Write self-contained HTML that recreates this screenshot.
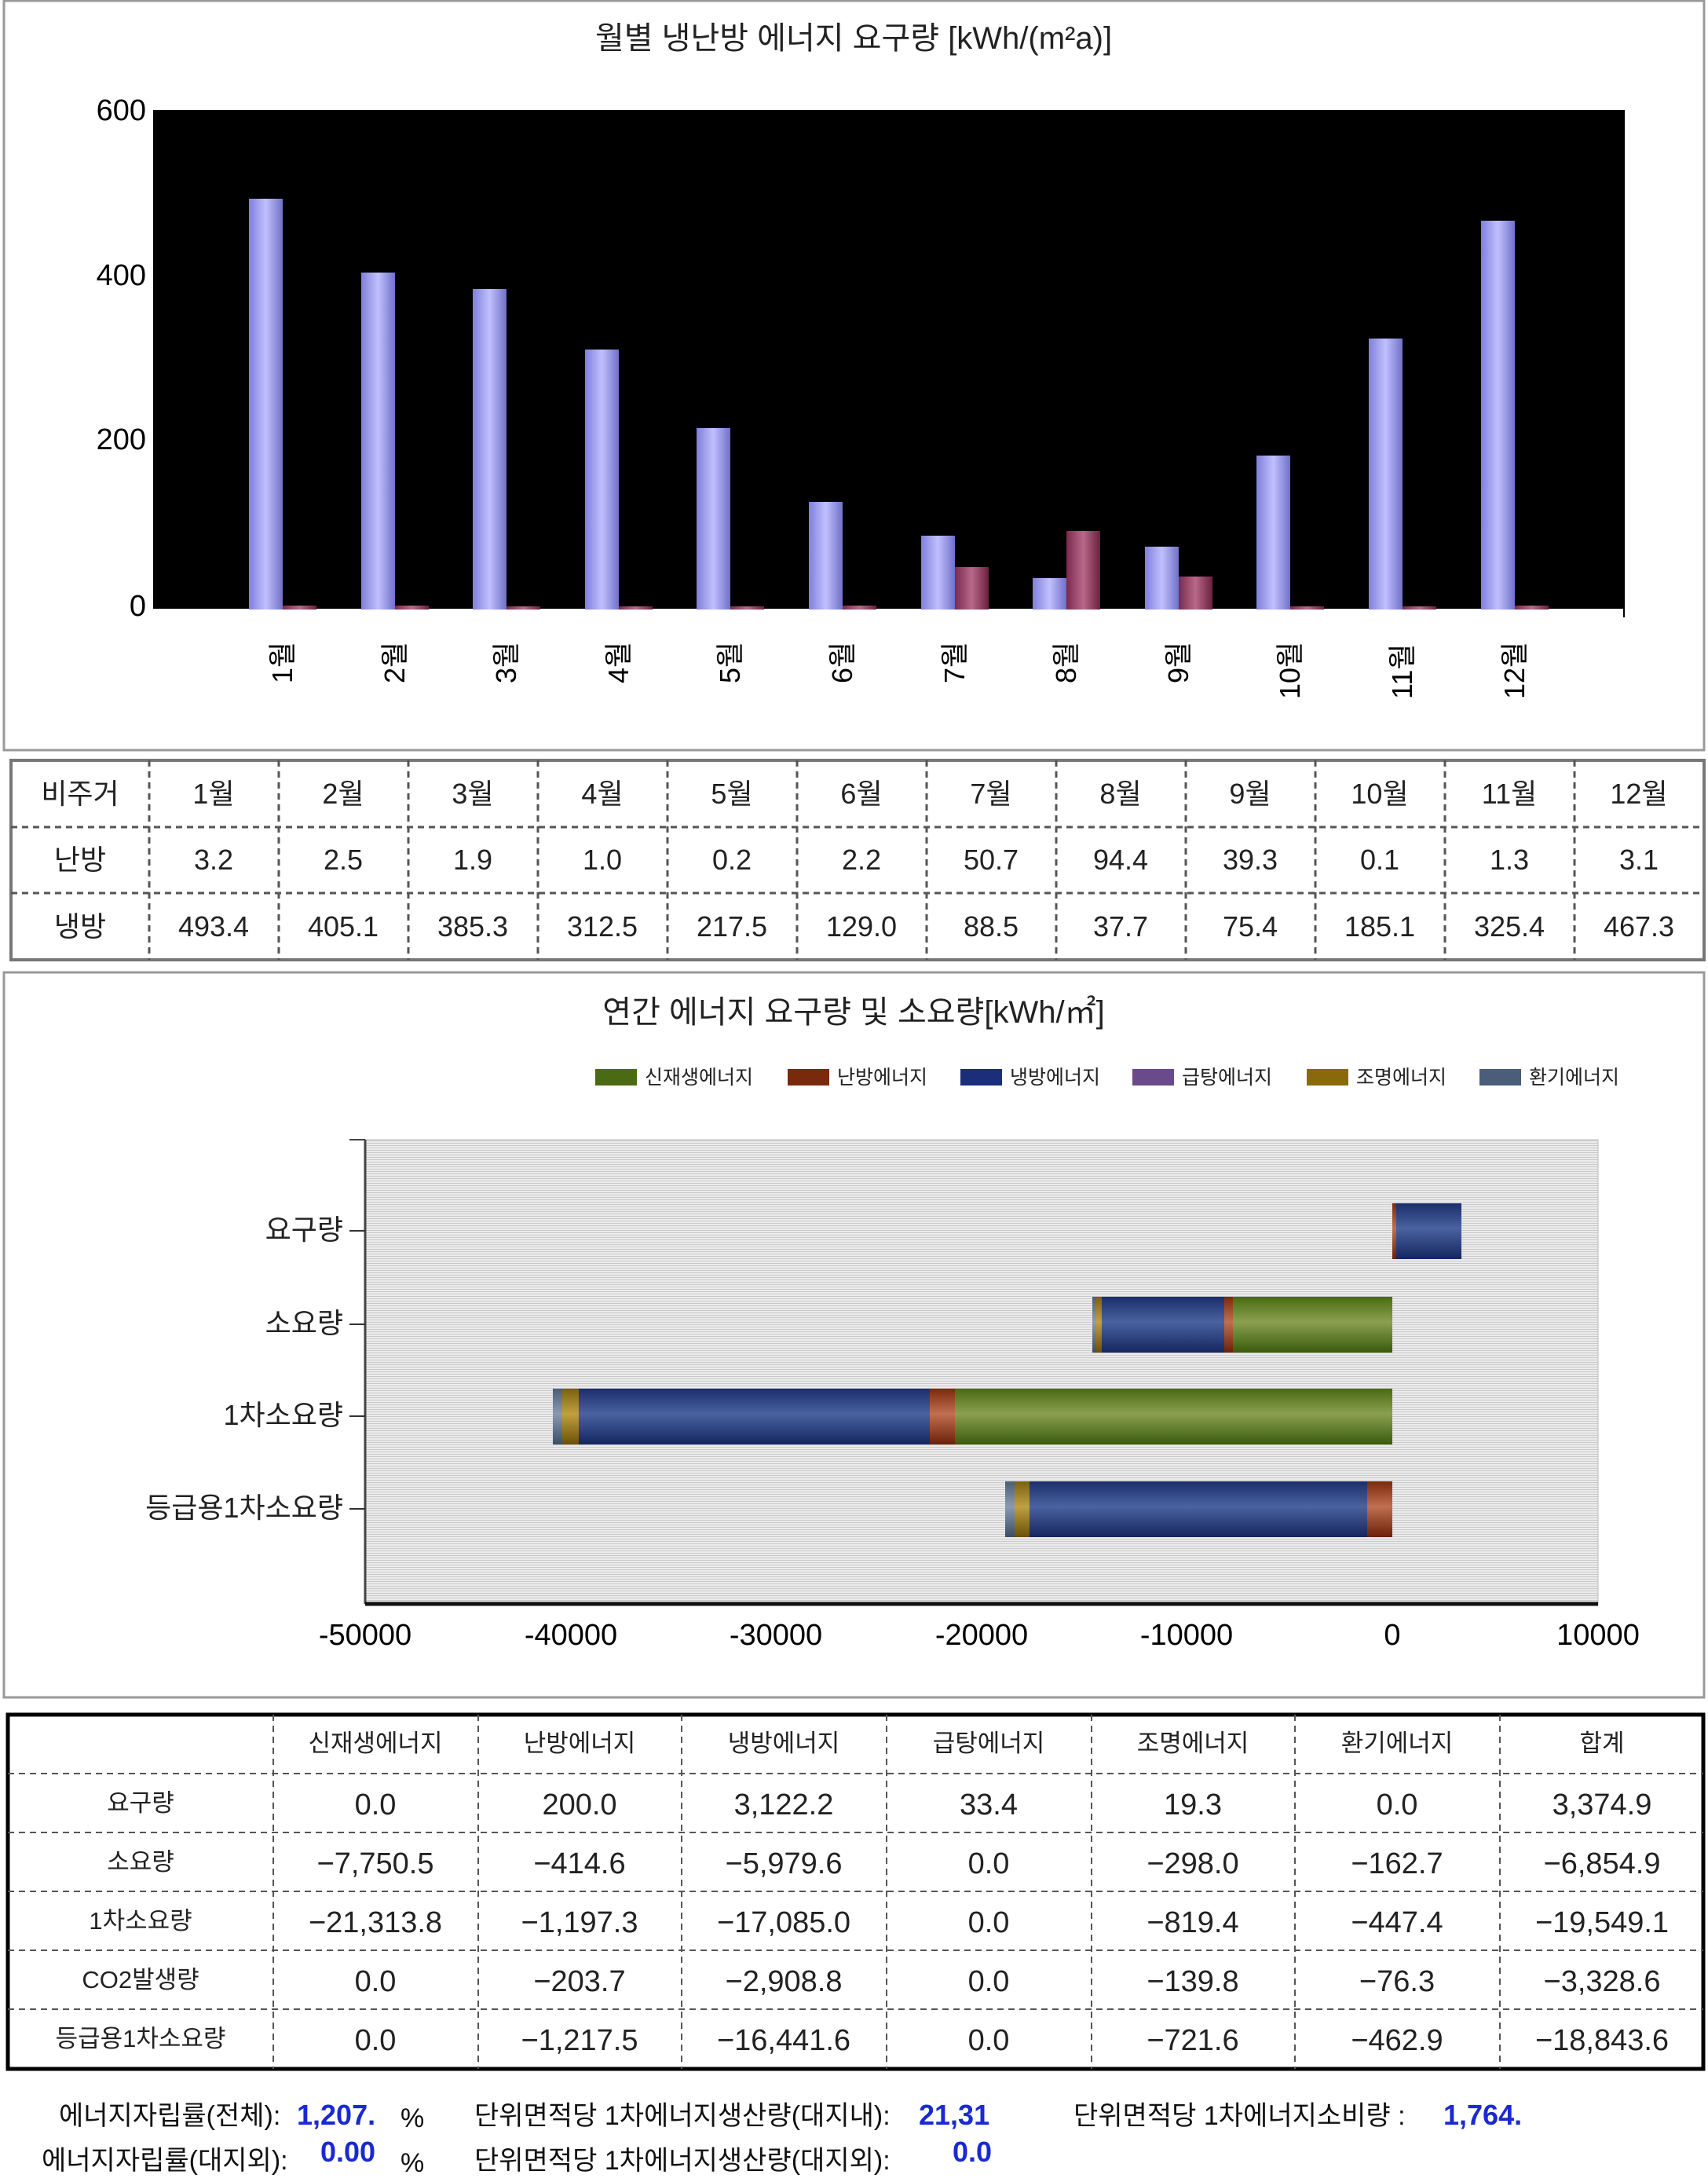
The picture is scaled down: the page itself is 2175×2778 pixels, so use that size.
<!DOCTYPE html>
<html><head><meta charset="utf-8"><style>
html,body{margin:0;padding:0;background:#fff}
svg{display:block}
text{font-family:"Liberation Sans","Noto Sans CJK KR",sans-serif}
</style></head><body>
<svg width="2175" height="2778" viewBox="0 0 2175 2778" xmlns="http://www.w3.org/2000/svg">
<defs>
<linearGradient id="bl" x1="0" x2="1" y1="0" y2="0"><stop offset="0" stop-color="#8080d8"/><stop offset="0.5" stop-color="#c0c0ff"/><stop offset="1" stop-color="#7070c8"/></linearGradient>
<linearGradient id="rd" x1="0" x2="1" y1="0" y2="0"><stop offset="0" stop-color="#7a2a4c"/><stop offset="0.5" stop-color="#b86888"/><stop offset="1" stop-color="#6a2040"/></linearGradient>
<linearGradient id="g1" x1="0" x2="0" y1="0" y2="1"><stop offset="0" stop-color="#4a6a14"/><stop offset="0.45" stop-color="#8aa050"/><stop offset="1" stop-color="#3a5a0c"/></linearGradient>
<linearGradient id="g2" x1="0" x2="0" y1="0" y2="1"><stop offset="0" stop-color="#7a2a0c"/><stop offset="0.45" stop-color="#c07050"/><stop offset="1" stop-color="#6a2008"/></linearGradient>
<linearGradient id="g3" x1="0" x2="0" y1="0" y2="1"><stop offset="0" stop-color="#1a2e6a"/><stop offset="0.45" stop-color="#4a62a0"/><stop offset="1" stop-color="#142660"/></linearGradient>
<linearGradient id="g5" x1="0" x2="0" y1="0" y2="1"><stop offset="0" stop-color="#7a6010"/><stop offset="0.45" stop-color="#c0a040"/><stop offset="1" stop-color="#6a5008"/></linearGradient>
<linearGradient id="g6" x1="0" x2="0" y1="0" y2="1"><stop offset="0" stop-color="#4a5e78"/><stop offset="0.45" stop-color="#8a9ab0"/><stop offset="1" stop-color="#3a4e68"/></linearGradient>
<pattern id="hl" width="4" height="3" patternUnits="userSpaceOnUse"><rect width="4" height="3" fill="#ececec"/><rect width="4" height="1" fill="#c8c8c8"/></pattern>
</defs>

<!-- Top panel -->
<rect x="5" y="1" width="2165" height="954" fill="#fff" stroke="#999" stroke-width="3"/>
<text x="1087" y="62" font-size="40" text-anchor="middle" fill="#222">월별 냉난방 에너지 요구량 [kWh/(m²a)]</text>
<rect x="195" y="140" width="1873" height="636" fill="#000"/>
<g font-size="38" fill="#000" text-anchor="end">
<text x="186" y="153">600</text><text x="186" y="363">400</text><text x="186" y="572">200</text><text x="186" y="784">0</text>
</g>
<line x1="195" y1="776" x2="2068" y2="776" stroke="#fff" stroke-width="2"/>
<line x1="2068" y1="140" x2="2068" y2="786" stroke="#000" stroke-width="2"/>
<g fill="url(#bl)">
<rect x="317" y="253" width="43" height="523"/>
<rect x="460" y="347" width="43" height="429"/>
<rect x="602" y="368" width="43" height="408"/>
<rect x="745" y="445" width="43" height="331"/>
<rect x="887" y="545" width="43" height="231"/>
<rect x="1030" y="639" width="43" height="137"/>
<rect x="1173" y="682" width="43" height="94"/>
<rect x="1315" y="736" width="43" height="40"/>
<rect x="1458" y="696" width="43" height="80"/>
<rect x="1600" y="580" width="43" height="196"/>
<rect x="1743" y="431" width="43" height="345"/>
<rect x="1886" y="281" width="43" height="495"/>
</g>
<g fill="url(#rd)">
<rect x="360" y="771" width="43" height="5"/>
<rect x="503" y="771" width="43" height="5"/>
<rect x="645" y="772" width="43" height="4"/>
<rect x="788" y="772" width="43" height="4"/>
<rect x="930" y="772" width="43" height="4"/>
<rect x="1073" y="771" width="43" height="5"/>
<rect x="1216" y="722" width="43" height="54"/>
<rect x="1358" y="676" width="43" height="100"/>
<rect x="1501" y="734" width="43" height="42"/>
<rect x="1643" y="772" width="43" height="4"/>
<rect x="1786" y="772" width="43" height="4"/>
<rect x="1929" y="771" width="43" height="5"/>
</g>
<g font-size="36" fill="#000">
<text transform="translate(372,870) rotate(-90)">1월</text>
<text transform="translate(515,870) rotate(-90)">2월</text>
<text transform="translate(657,870) rotate(-90)">3월</text>
<text transform="translate(800,870) rotate(-90)">4월</text>
<text transform="translate(942,870) rotate(-90)">5월</text>
<text transform="translate(1085,870) rotate(-90)">6월</text>
<text transform="translate(1228,870) rotate(-90)">7월</text>
<text transform="translate(1370,870) rotate(-90)">8월</text>
<text transform="translate(1513,870) rotate(-90)">9월</text>
<text transform="translate(1655,890) rotate(-90)">10월</text>
<text transform="translate(1798,890) rotate(-90)">11월</text>
<text transform="translate(1941,890) rotate(-90)">12월</text>
</g>

<!-- Table 1 -->
<rect x="14" y="968" width="2156" height="254" fill="#fff" stroke="#777" stroke-width="4"/>
<g stroke="#555" stroke-width="3" stroke-dasharray="8,6">
<line x1="14" y1="1053" x2="2170" y2="1053"/><line x1="14" y1="1137" x2="2170" y2="1137"/>
<line x1="190" y1="968" x2="190" y2="1222"/><line x1="355" y1="968" x2="355" y2="1222"/><line x1="520" y1="968" x2="520" y2="1222"/><line x1="685" y1="968" x2="685" y2="1222"/><line x1="850" y1="968" x2="850" y2="1222"/><line x1="1015" y1="968" x2="1015" y2="1222"/><line x1="1180" y1="968" x2="1180" y2="1222"/><line x1="1345" y1="968" x2="1345" y2="1222"/><line x1="1510" y1="968" x2="1510" y2="1222"/><line x1="1675" y1="968" x2="1675" y2="1222"/><line x1="1840" y1="968" x2="1840" y2="1222"/><line x1="2005" y1="968" x2="2005" y2="1222"/>
</g>
<g font-size="36" fill="#222" text-anchor="middle">
<text x="102" y="1023">비주거</text><text x="102" y="1107">난방</text><text x="102" y="1192">냉방</text>
<text x="272" y="1023">1월</text><text x="437" y="1023">2월</text><text x="602" y="1023">3월</text><text x="767" y="1023">4월</text><text x="932" y="1023">5월</text><text x="1097" y="1023">6월</text><text x="1262" y="1023">7월</text><text x="1427" y="1023">8월</text><text x="1592" y="1023">9월</text><text x="1757" y="1023">10월</text><text x="1922" y="1023">11월</text><text x="2087" y="1023">12월</text>
<text x="272" y="1107">3.2</text><text x="437" y="1107">2.5</text><text x="602" y="1107">1.9</text><text x="767" y="1107">1.0</text><text x="932" y="1107">0.2</text><text x="1097" y="1107">2.2</text><text x="1262" y="1107">50.7</text><text x="1427" y="1107">94.4</text><text x="1592" y="1107">39.3</text><text x="1757" y="1107">0.1</text><text x="1922" y="1107">1.3</text><text x="2087" y="1107">3.1</text>
<text x="272" y="1192">493.4</text><text x="437" y="1192">405.1</text><text x="602" y="1192">385.3</text><text x="767" y="1192">312.5</text><text x="932" y="1192">217.5</text><text x="1097" y="1192">129.0</text><text x="1262" y="1192">88.5</text><text x="1427" y="1192">37.7</text><text x="1592" y="1192">75.4</text><text x="1757" y="1192">185.1</text><text x="1922" y="1192">325.4</text><text x="2087" y="1192">467.3</text>
</g>

<!-- Panel 2 -->
<rect x="5" y="1238" width="2165" height="923" fill="#fff" stroke="#999" stroke-width="3"/>
<text x="1087" y="1302" font-size="40" text-anchor="middle" fill="#222">연간 에너지 요구량 및 소요량[kWh/㎡]</text>
<g font-size="25" fill="#222">
<rect x="758" y="1361" width="53" height="21" fill="#4a6a14"/><text x="821" y="1380">신재생에너지</text>
<rect x="1003" y="1361" width="53" height="21" fill="#7a2a0c"/><text x="1066" y="1380">난방에너지</text>
<rect x="1223" y="1361" width="53" height="21" fill="#1a2e7a"/><text x="1286" y="1380">냉방에너지</text>
<rect x="1442" y="1361" width="53" height="21" fill="#6a4a8a"/><text x="1505" y="1380">급탕에너지</text>
<rect x="1664" y="1361" width="53" height="21" fill="#8a6a08"/><text x="1727" y="1380">조명에너지</text>
<rect x="1884" y="1361" width="53" height="21" fill="#4a5e7a"/><text x="1947" y="1380">환기에너지</text>
</g>
<rect x="465" y="1451" width="1570" height="591" fill="url(#hl)" stroke="#bbb" stroke-width="1"/>
<line x1="465" y1="1451" x2="465" y2="2042" stroke="#444" stroke-width="3"/>
<line x1="445" y1="1451" x2="465" y2="1451" stroke="#444" stroke-width="2"/>
<line x1="465" y1="2042" x2="2035" y2="2042" stroke="#111" stroke-width="5"/>
<g stroke="#333" stroke-width="2"><line x1="445" y1="1567" x2="465" y2="1567"/><line x1="445" y1="1686" x2="465" y2="1686"/><line x1="445" y1="1803" x2="465" y2="1803"/><line x1="445" y1="1921" x2="465" y2="1921"/></g>
<g font-size="36" fill="#222" text-anchor="end">
<text x="437" y="1578">요구량</text><text x="437" y="1697">소요량</text><text x="437" y="1814">1차소요량</text><text x="437" y="1932">등급용1차소요량</text>
</g>
<g font-size="38" fill="#000" text-anchor="middle">
<text x="465" y="2094">-50000</text><text x="727" y="2094">-40000</text><text x="988" y="2094">-30000</text><text x="1250" y="2094">-20000</text><text x="1511" y="2094">-10000</text><text x="1773" y="2094">0</text><text x="2035" y="2094">10000</text>
</g>
<!-- bars -->
<rect x="1773" y="1532" width="5" height="71" fill="url(#g2)"/>
<rect x="1778" y="1532" width="83" height="71" fill="url(#g3)"/>
<rect x="1391" y="1651" width="4" height="71" fill="url(#g6)"/>
<rect x="1395" y="1651" width="8" height="71" fill="url(#g5)"/>
<rect x="1403" y="1651" width="156" height="71" fill="url(#g3)"/>
<rect x="1559" y="1651" width="11" height="71" fill="url(#g2)"/>
<rect x="1570" y="1651" width="203" height="71" fill="url(#g1)"/>
<rect x="704" y="1768" width="12" height="71" fill="url(#g6)"/>
<rect x="716" y="1768" width="21" height="71" fill="url(#g5)"/>
<rect x="737" y="1768" width="447" height="71" fill="url(#g3)"/>
<rect x="1184" y="1768" width="32" height="71" fill="url(#g2)"/>
<rect x="1216" y="1768" width="557" height="71" fill="url(#g1)"/>
<rect x="1280" y="1886" width="12" height="71" fill="url(#g6)"/>
<rect x="1292" y="1886" width="19" height="71" fill="url(#g5)"/>
<rect x="1311" y="1886" width="430" height="71" fill="url(#g3)"/>
<rect x="1741" y="1886" width="32" height="71" fill="url(#g2)"/>

<!-- Table 2 -->
<rect x="10" y="2183" width="2159" height="451" fill="#fff" stroke="#000" stroke-width="5"/>
<g stroke="#555" stroke-width="2" stroke-dasharray="8,6">
<line x1="10" y1="2258" x2="2169" y2="2258"/><line x1="10" y1="2333" x2="2169" y2="2333"/><line x1="10" y1="2408" x2="2169" y2="2408"/><line x1="10" y1="2483" x2="2169" y2="2483"/><line x1="10" y1="2558" x2="2169" y2="2558"/>
<line x1="348" y1="2183" x2="348" y2="2634"/><line x1="609" y1="2183" x2="609" y2="2634"/><line x1="868" y1="2183" x2="868" y2="2634"/><line x1="1129" y1="2183" x2="1129" y2="2634"/><line x1="1390" y1="2183" x2="1390" y2="2634"/><line x1="1649" y1="2183" x2="1649" y2="2634"/><line x1="1910" y1="2183" x2="1910" y2="2634"/>
</g>
<g font-size="31" fill="#222" text-anchor="middle">
<text x="478" y="2230">신재생에너지</text><text x="738" y="2230">난방에너지</text><text x="998" y="2230">냉방에너지</text><text x="1259" y="2230">급탕에너지</text><text x="1519" y="2230">조명에너지</text><text x="1779" y="2230">환기에너지</text><text x="2040" y="2230">합계</text>
<text x="179" y="2306">요구량</text><text x="179" y="2381">소요량</text><text x="179" y="2456">1차소요량</text><text x="179" y="2531">CO2발생량</text><text x="179" y="2606">등급용1차소요량</text>
</g>
<g font-size="38" fill="#222" text-anchor="middle">
<text x="478" y="2310">0.0</text><text x="738" y="2310">200.0</text><text x="998" y="2310">3,122.2</text><text x="1259" y="2310">33.4</text><text x="1519" y="2310">19.3</text><text x="1779" y="2310">0.0</text><text x="2040" y="2310">3,374.9</text>
<text x="478" y="2385">−7,750.5</text><text x="738" y="2385">−414.6</text><text x="998" y="2385">−5,979.6</text><text x="1259" y="2385">0.0</text><text x="1519" y="2385">−298.0</text><text x="1779" y="2385">−162.7</text><text x="2040" y="2385">−6,854.9</text>
<text x="478" y="2460">−21,313.8</text><text x="738" y="2460">−1,197.3</text><text x="998" y="2460">−17,085.0</text><text x="1259" y="2460">0.0</text><text x="1519" y="2460">−819.4</text><text x="1779" y="2460">−447.4</text><text x="2040" y="2460">−19,549.1</text>
<text x="478" y="2535">0.0</text><text x="738" y="2535">−203.7</text><text x="998" y="2535">−2,908.8</text><text x="1259" y="2535">0.0</text><text x="1519" y="2535">−139.8</text><text x="1779" y="2535">−76.3</text><text x="2040" y="2535">−3,328.6</text>
<text x="478" y="2610">0.0</text><text x="738" y="2610">−1,217.5</text><text x="998" y="2610">−16,441.6</text><text x="1259" y="2610">0.0</text><text x="1519" y="2610">−721.6</text><text x="1779" y="2610">−462.9</text><text x="2040" y="2610">−18,843.6</text>
</g>

<!-- Footer -->
<g font-size="34" fill="#111">
<text x="75" y="2705">에너지자립률(전체):</text><text x="510" y="2708">%</text>
<text x="604" y="2705">단위면적당 1차에너지생산량(대지내):</text>
<text x="1367" y="2705">단위면적당 1차에너지소비량 :</text>
<text x="53" y="2762">에너지자립률(대지외):</text><text x="510" y="2765">%</text>
<text x="604" y="2762">단위면적당 1차에너지생산량(대지외):</text>
</g>
<g font-size="36" fill="#1a2ad0" font-weight="bold">
<text x="378" y="2705">1,207.</text><text x="1170" y="2705">21,31</text><text x="1838" y="2705">1,764.</text>
<text x="408" y="2752">0.00</text><text x="1213" y="2752">0.0</text>
</g>
</svg>
</body></html>
